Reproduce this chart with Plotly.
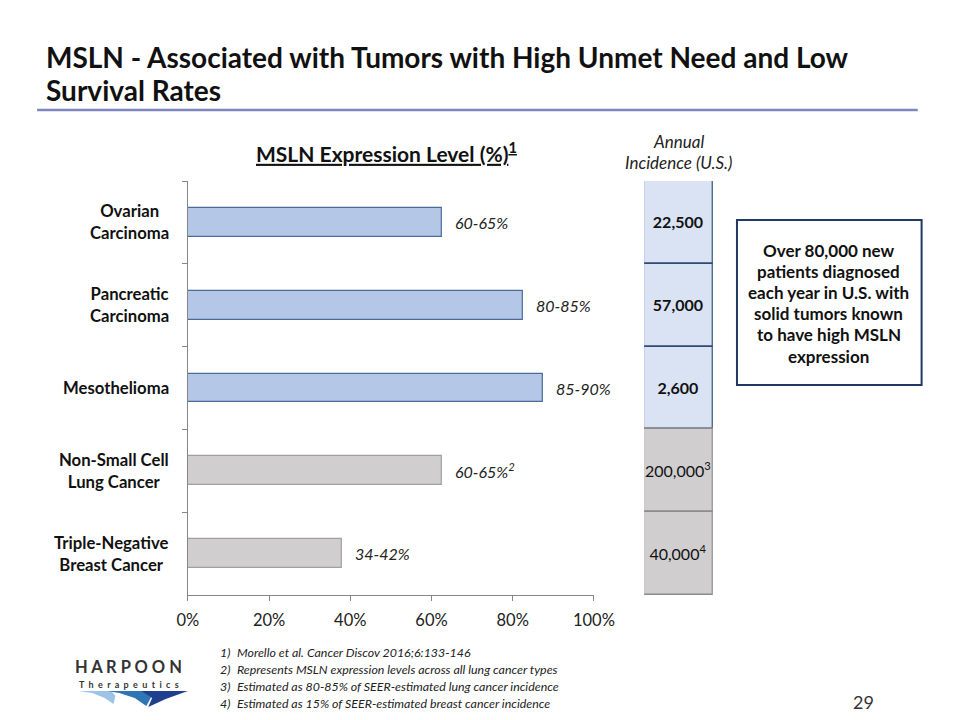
import plotly.graph_objects as go

# ---------------- data ----------------
categories = ["Ovarian<br>Carcinoma", "Pancreatic<br>Carcinoma", "Mesothelioma",
              "Non-Small Cell<br>Lung Cancer", "Triple-Negative<br>Breast Cancer"]
expression_values = [62.5, 82.5, 87.5, 62.5, 38]
expression_labels = ["60-65%", "80-85%", "85-90%", "60-65%<sup>2</sup>", "34-42%"]
highlight = [True, True, True, False, False]
incidence_values = [22500, 57000, 2600, 200000, 40000]
incidence_notes = ["", "", "", "3", "4"]
x_ticks = [0, 20, 40, 60, 80, 100]
x_tick_labels = [f"{v}%" for v in x_ticks]
callout_lines = ["Over 80,000 new", "patients diagnosed", "each year in U.S. with",
                 "solid tumors known", "to have high MSLN", "expression"]
footnotes = ["Morello et al. Cancer Discov 2016;6:133-146",
             "Represents MSLN expression levels across all lung cancer types",
             "Estimated as 80-85% of SEER-estimated lung cancer incidence",
             "Estimated as 15% of SEER-estimated breast cancer incidence"]

FONT = "Lato"
W, H = 960, 720
def px(x): return x / W
def py(y): return 1 - y / H

bar_fill = ["#B4C7E7" if h else "#D0CECE" for h in highlight]
bar_line = ["#4A6A9A" if h else "#A0A0A0" for h in highlight]
cell_fill = ["#DAE3F3" if h else "#D0CECE" for h in highlight]
cell_line = ["#2F4A74" if h else "#8C8C8C" for h in highlight]
cell_text = []
for v, n, h in zip(incidence_values, incidence_notes, highlight):
    s = f"{v:,}"
    if n:
        s += f"<sup>{n}</sup>"
    cell_text.append(f"<b>{s}</b>" if h else s)

fig = go.Figure()
fig.add_trace(go.Bar(
    y=categories, x=expression_values, orientation="h", width=0.35,
    marker=dict(color=bar_fill, line=dict(color=bar_line, width=1.2)),
    xaxis="x", yaxis="y", showlegend=False, hoverinfo="skip"))
fig.add_trace(go.Bar(
    y=categories, x=[1] * len(categories), orientation="h", width=1,
    marker=dict(color=cell_fill, line=dict(color=cell_line, width=1.5)),
    text=cell_text, textposition="inside", insidetextanchor="middle",
    constraintext="none", textangle=0,
    textfont=dict(family=FONT, size=16, color="#111111"),
    xaxis="x2", yaxis="y2", showlegend=False, hoverinfo="skip"))

ydom = [py(595), py(181)]
fig.update_layout(
    width=W, height=H, autosize=False,
    margin=dict(l=0, r=0, t=0, b=0),
    paper_bgcolor="white", plot_bgcolor="white",
    font=dict(family=FONT, color="#111111"),
    xaxis=dict(domain=[px(183), px(603)], range=[0, 100], tickmode="array",
               tickvals=x_ticks, ticktext=x_tick_labels,
               ticks="outside", ticklen=5, tickcolor="#868686",
               ticklabelstandoff=5,
               showline=True, linecolor="#868686", linewidth=1,
               showgrid=False, zeroline=False, anchor="y",
               tickfont=dict(family=FONT, size=16.5, color="#222222")),
    yaxis=dict(domain=ydom, type="category", categoryarray=categories,
               autorange="reversed", showline=True, linecolor="#868686",
               linewidth=1, ticks="outside", ticklen=5, tickcolor="#868686",
               tickson="boundaries", showticklabels=False, showgrid=False,
               anchor="x"),
    xaxis2=dict(domain=[px(655), px(726)], range=[0, 1], visible=False,
                anchor="y2"),
    yaxis2=dict(domain=ydom, type="category", categoryarray=categories,
                autorange="reversed", visible=False, anchor="x2"),
    bargap=0,
)

ann = []
# category labels
for c in categories:
    ann.append(dict(x=px(166), y=c, xref="paper", yref="y", xanchor="right",
                    yanchor="middle", align="center", showarrow=False,
                    text=f"<b>{c}</b>", font=dict(family=FONT, size=16.7, color="#111111")))
# value labels
for c, v, t in zip(categories, expression_values, expression_labels):
    ann.append(dict(x=v, y=c, xref="x", yref="y", xanchor="left", yanchor="middle",
                    xshift=11, showarrow=False, text=f"<i>{t}</i>",
                    font=dict(family=FONT, size=16, color="#222222")))
# main title
ann.append(dict(x=px(34), y=py(57), xref="paper", yref="paper", xanchor="left",
                yanchor="middle", showarrow=False,
                text="<b>MSLN - Associated with Tumors with High Unmet Need and Low</b>",
                font=dict(family=FONT, size=28, color="#111111")))
ann.append(dict(x=px(34), y=py(90), xref="paper", yref="paper", xanchor="left",
                yanchor="middle", showarrow=False, text="<b>Survival Rates</b>",
                font=dict(family=FONT, size=28, color="#111111")))
# chart title
ann.append(dict(x=px(388), y=py(152), xref="paper", yref="paper", xanchor="center",
                yanchor="middle", showarrow=False,
                text="<b><u>MSLN Expression Level (%)<sup>1</sup></u></b>",
                font=dict(family=FONT, size=21, color="#111111")))
# column header
for i, t in enumerate(["Annual", "Incidence (U.S.)"]):
    ann.append(dict(x=px(691), y=py(142 + 21 * i), xref="paper", yref="paper",
                    xanchor="center", yanchor="middle", showarrow=False,
                    text=f"<i>{t}</i>",
                    font=dict(family=FONT, size=17, color="#222222")))
# call-out box text
for i, t in enumerate(callout_lines):
    ann.append(dict(x=px(846), y=py(250 + 21.2 * i), xref="paper", yref="paper",
                    xanchor="center", yanchor="middle", showarrow=False,
                    text=f"<b>{t}</b>",
                    font=dict(family=FONT, size=17, color="#111111")))
# footnotes
for i, f in enumerate(footnotes):
    yy = py(652 + 17 * i)
    ann.append(dict(x=px(214), y=yy, xref="paper", yref="paper", xanchor="left",
                    yanchor="middle", showarrow=False, text=f"<i>{i+1})</i>",
                    font=dict(family=FONT, size=12.4, color="#222222")))
    ann.append(dict(x=px(232), y=yy, xref="paper", yref="paper", xanchor="left",
                    yanchor="middle", showarrow=False, text=f"<i>{f}</i>",
                    font=dict(family=FONT, size=12.4, color="#222222")))
# logo text (letter-spaced)
ann.append(dict(x=px(122), y=py(667), xref="paper", yref="paper", xanchor="center",
                yanchor="middle", showarrow=False, text="<b>" + " ".join("HARPOON") + "</b>",
                font=dict(family=FONT, size=16.5, color="#333333")))
ann.append(dict(x=px(122), y=py(684), xref="paper", yref="paper", xanchor="center",
                yanchor="middle", showarrow=False,
                text="<b>" + " \u00a0".join("Therapeutics") + "</b>",
                font=dict(family=FONT, size=9, color="#333333")))
# page number
ann.append(dict(x=px(882), y=py(702), xref="paper", yref="paper", xanchor="center",
                yanchor="middle", showarrow=False, text="29",
                font=dict(family=FONT, size=18, color="#333333")))
fig.update_layout(annotations=ann)

shapes = [
    # title rule
    dict(type="line", xref="paper", yref="paper", x0=px(27), x1=px(938),
         y0=py(110), y1=py(110), line=dict(color="#7F86BD", width=2.5)),
    # call-out box
    dict(type="rect", xref="paper", yref="paper", x0=px(751), x1=px(942),
         y0=py(220), y1=py(385), line=dict(color="#1F3864", width=2),
         fillcolor="rgba(0,0,0,0)"),
]
def pth(pts):
    return "M " + " L ".join(f"{px(x):.5f},{py(y):.5f}" for x, y in pts) + " Z"
swooshes = [
    ([(70, 691), (104, 691), (108, 696), (106, 704), (97, 698), (84, 693)], "#9DC3E6"),
    ([(100, 691), (140, 691), (145, 697), (140, 706), (128, 698), (112, 693)], "#2E75B6"),
    ([(135, 691), (183, 691), (160, 699), (142, 707), (146, 698)], "#1F3F8F"),
]
for pts, col in swooshes:
    shapes.append(dict(type="path", xref="paper", yref="paper", path=pth(pts),
                       fillcolor=col, line=dict(width=0)))
fig.update_layout(shapes=shapes)

fig.write_html("out.html")
